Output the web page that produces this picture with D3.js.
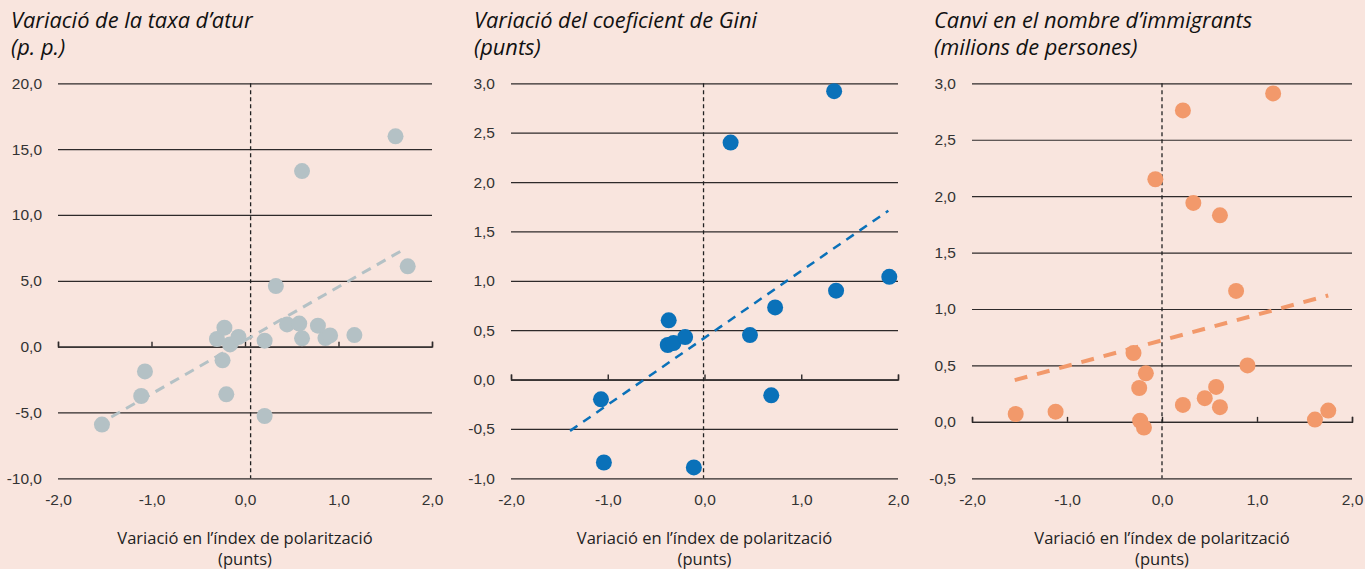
<!DOCTYPE html>
<html>
<head>
<meta charset="utf-8">
<script src="https://cdn.jsdelivr.net/npm/d3@7"></script>
<style>
  body { margin: 0; background: #f9e5de; }
  svg { display: block; font-family: "Open Sans", sans-serif; }
  .title { font-style: italic; font-size: 21.8px; fill: #111; }
  .tick text { font-size: 15.5px; fill: #333; }
  .xlabel { font-size: 16.5px; fill: #222; }
</style>
</head>
<body>
<svg id="chart" width="1365" height="569"></svg>
<script>
// x values are always the change in the polarisation index (points)
var xTicks = [-2, -1, 0, 1, 2];

// panel 1: unemployment rate change (p.p.)
var unempX = [-1.53, -1.11, -1.07, -0.30, -0.22, -0.16, -0.07, -0.24, -0.20, 0.21, 0.21, 0.33, 0.45, 0.58, 0.61, 0.61, 0.78, 0.86, 0.91, 1.17, 1.61, 1.74];
var unempY = [-5.92, -3.75, -1.88, 0.58, 1.44, 0.17, 0.73, -1.04, -3.62, 0.45, -5.27, 4.60, 1.69, 1.75, 0.63, 13.33, 1.59, 0.65, 0.85, 0.88, 15.97, 6.10];
var unempTicks = [-10, -5, 0, 5, 10, 15, 20];
var unempTrend = [[-1.43, -5.34], [1.70, 7.39]];

// panel 2: Gini coefficient change (points)
var giniX = [1.34, 0.27, 1.91, 1.36, 0.73, 0.47, -0.37, -0.38, -0.32, -0.20, -1.07, -1.04, -0.11, 0.69];
var giniY = [2.92, 2.40, 1.04, 0.90, 0.73, 0.45, 0.60, 0.35, 0.37, 0.43, -0.20, -0.84, -0.89, -0.16];
var giniTicks = [-1, -0.5, 0, 0.5, 1, 1.5, 2, 2.5, 3];
var giniTrend = [[-1.39, -0.52], [1.90, 1.71]];

// panel 3: change in number of immigrants (millions)
var immX = [1.17, 0.22, -0.07, 0.33, 0.61, 0.78, 0.90, -0.30, -0.17, -0.24, 0.57, 0.45, 0.22, 0.61, -1.54, -1.12, -0.23, -0.19, 1.61, 1.75];
var immY = [2.91, 2.76, 2.15, 1.94, 1.83, 1.16, 0.50, 0.61, 0.43, 0.30, 0.31, 0.21, 0.15, 0.13, 0.07, 0.09, 0.01, -0.05, 0.02, 0.10];
var immTicks = [-0.5, 0, 0.5, 1, 1.5, 2, 2.5, 3];
var immTrend = [[-1.55, 0.37], [1.75, 1.12]];

var titles = [
  ["Variació de la taxa d’atur", "(p. p.)"],
  ["Variació del coeficient de Gini", "(punts)"],
  ["Canvi en el nombre d’immigrants", "(milions de persones)"]
];
var xLabel = ["Variació en l’índex de polarització", "(punts)"];
var refLine = [0.06, -0.01, 0];

var locale = d3.formatLocale({decimal: ",", thousands: ".", grouping: [3], minus: "-"});
var fmt = locale.format(".1f");

var panels = [
  {xs: unempX, ys: unempY, ticks: unempTicks, trend: unempTrend, left: 58, right: 432, titleX: 11,
   color: "#b4c1c5", lineColor: "#b4c1c5", lineW: 3, dash: "10,7"},
  {xs: giniX, ys: giniY, ticks: giniTicks, trend: giniTrend, left: 511, right: 898, titleX: 474,
   color: "#0a71b9", lineColor: "#0a71b9", lineW: 2.5, dash: "9,7"},
  {xs: immX, ys: immY, ticks: immTicks, trend: immTrend, left: 972, right: 1352, titleX: 934,
   color: "#f2996b", lineColor: "#f2996b", lineW: 4, dash: "13,10"}
];

var svg = d3.select("#chart");
var plotTop = 83.3, plotBottom = 478.3;

panels.forEach(function(p, i) {
  var g = svg.append("g");

  var x = d3.scaleLinear().domain([-2, 2]).range([p.left, p.right]);
  var y = d3.scaleLinear().domain(d3.extent(p.ticks)).range([plotBottom, plotTop]);

  // title, two lines
  g.selectAll("text.title").data(titles[i]).enter().append("text")
    .attr("class", "title")
    .attr("x", p.titleX)
    .attr("y", function(d, k) { return 28 + k * 27; })
    .text(function(d) { return d; });

  // horizontal grid with the y labels
  var yAxis = g.append("g")
    .attr("transform", "translate(" + p.left + ",0)")
    .call(d3.axisLeft(y).tickValues(p.ticks).tickFormat(fmt)
      .tickSize(-(p.right - p.left)).tickPadding(16));
  yAxis.select(".domain").remove();
  yAxis.selectAll(".tick line").attr("stroke", "#2e2a2a").attr("stroke-width", 1.2);

  // zero axis with upward ticks
  var zAxis = g.append("g")
    .attr("transform", "translate(0," + y(0) + ")")
    .call(d3.axisBottom(x).tickValues(xTicks).tickSize(-5).tickFormat(""));
  zAxis.selectAll("path, line").attr("stroke", "#2e2a2a").attr("stroke-width", 1.4);

  // x tick labels at the bottom
  var bAxis = g.append("g")
    .attr("transform", "translate(0," + plotBottom + ")")
    .call(d3.axisBottom(x).tickValues(xTicks).tickFormat(fmt).tickSize(0).tickPadding(16));
  bAxis.select(".domain").remove();

  // dashed reference line at zero
  g.append("line")
    .attr("x1", x(refLine[i])).attr("x2", x(refLine[i]))
    .attr("y1", plotTop).attr("y2", plotBottom)
    .attr("stroke", "#222").attr("stroke-width", 1.3)
    .attr("stroke-dasharray", "4,3");

  // trend line
  g.append("line")
    .attr("x1", x(p.trend[0][0])).attr("y1", y(p.trend[0][1]))
    .attr("x2", x(p.trend[1][0])).attr("y2", y(p.trend[1][1]))
    .attr("stroke", p.lineColor).attr("stroke-width", p.lineW)
    .attr("stroke-dasharray", p.dash);

  // dots
  g.selectAll("circle").data(p.xs).enter().append("circle")
    .attr("cx", function(d) { return x(d); })
    .attr("cy", function(d, k) { return y(p.ys[k]); })
    .attr("r", 8)
    .attr("fill", p.color);

  // x axis label
  g.selectAll("text.xlabel").data(xLabel).enter().append("text")
    .attr("class", "xlabel")
    .attr("text-anchor", "middle")
    .attr("x", x(0))
    .attr("y", function(d, k) { return 544 + k * 21; })
    .text(function(d) { return d; });
});
</script>
</body>
</html>
